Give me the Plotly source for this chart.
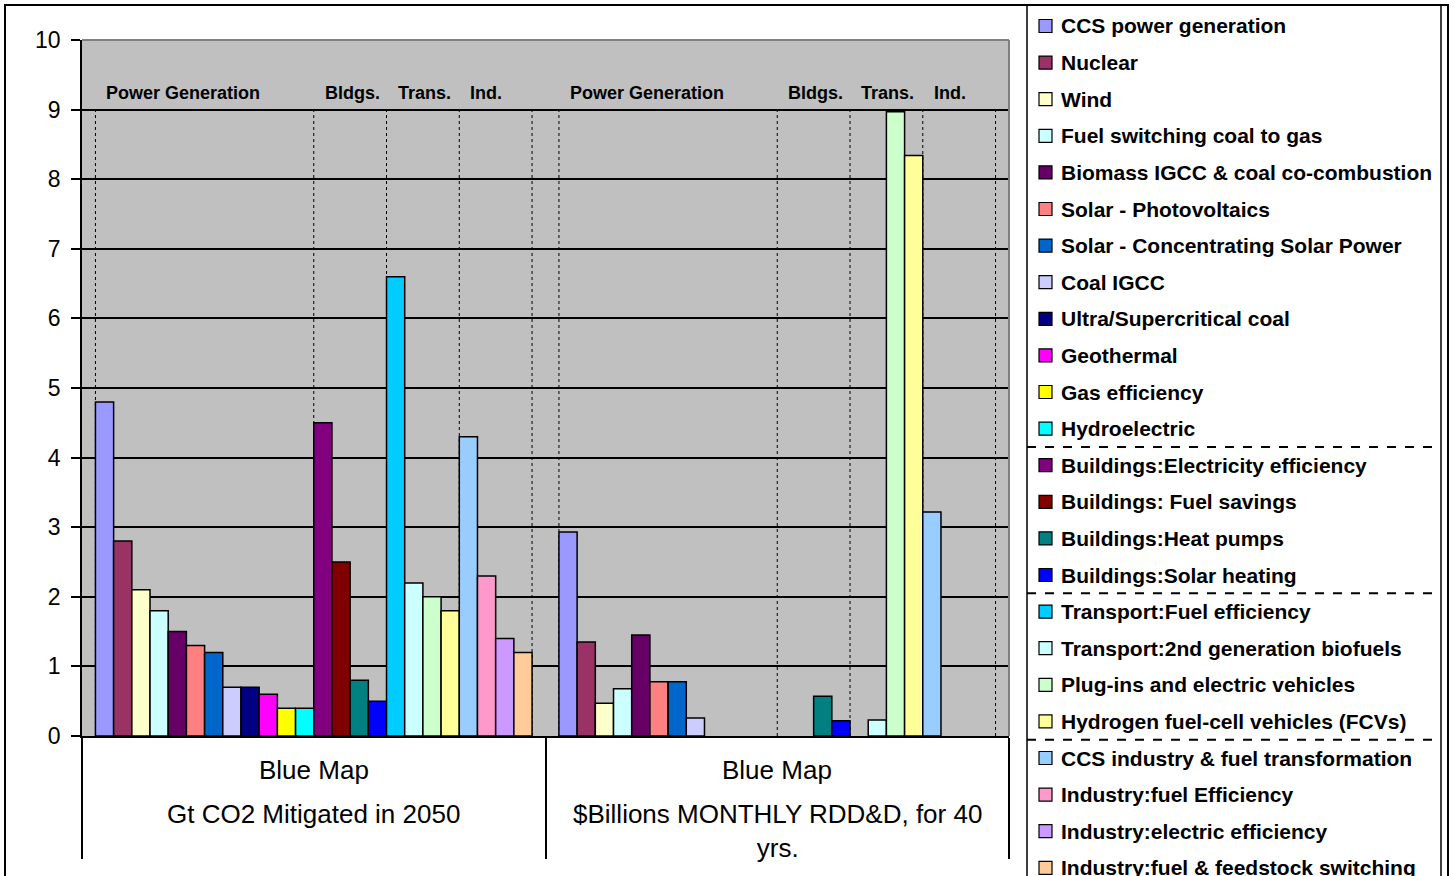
import plotly.graph_objects as go

# ---- data -------------------------------------------------------------
scenario = "Blue Map"
measures = ["Gt CO2 Mitigated in 2050", "$Billions MONTHLY RDD&D, for 40 yrs."]
measure_labels = ["Gt CO2 Mitigated in 2050", "$Billions MONTHLY RDD&D, for 40<br>yrs."]

series = [
    "CCS power generation",
    "Nuclear",
    "Wind",
    "Fuel switching coal to gas",
    "Biomass IGCC & coal co-combustion",
    "Solar - Photovoltaics",
    "Solar - Concentrating Solar Power",
    "Coal IGCC",
    "Ultra/Supercritical coal",
    "Geothermal",
    "Gas efficiency",
    "Hydroelectric",
    "Buildings:Electricity efficiency",
    "Buildings: Fuel savings",
    "Buildings:Heat pumps",
    "Buildings:Solar heating",
    "Transport:Fuel efficiency",
    "Transport:2nd generation biofuels",
    "Plug-ins and electric vehicles",
    "Hydrogen fuel-cell vehicles (FCVs)",
    "CCS industry & fuel transformation",
    "Industry:fuel Efficiency",
    "Industry:electric efficiency",
    "Industry:fuel & feedstock switching",
]

colors = [
    "#9999FF", "#993366", "#FFFFCC", "#CCFFFF", "#660066", "#FF8080",
    "#0066CC", "#CCCCFF", "#000080", "#FF00FF", "#FFFF00", "#00FFFF",
    "#800080", "#800000", "#008080", "#0000FF",
    "#00CCFF", "#CCFFFF", "#CCFFCC", "#FFFF99",
    "#99CCFF", "#FF99CC", "#CC99FF", "#FFCC99",
]

# Gt CO2 mitigated in 2050
co2_mitigated = [4.8, 2.8, 2.1, 1.8, 1.5, 1.3, 1.2, 0.7, 0.7, 0.6, 0.4, 0.4,
                 4.5, 2.5, 0.8, 0.5,
                 6.6, 2.2, 2.0, 1.8,
                 4.3, 2.3, 1.4, 1.2]

# $Billions monthly RDD&D for 40 years (None = no spending listed)
rdd_spending = [2.93, 1.35, 0.47, 0.68, 1.45, 0.78, 0.78, 0.26, None, None, None, None,
                None, None, 0.57, 0.22,
                None, 0.23, 8.97, 8.34,
                3.22, None, None, None]

sectors = ["Power Generation", "Bldgs.", "Trans.", "Ind."]
sector_sizes = [12, 4, 4, 4]
y_ticks = list(range(0, 11))

# ---- geometry ---------------------------------------------------------
W, H = 1455, 876
ML, MR, MT, MB = 82, 446, 40, 140
PW, PH = W - ML - MR, H - MT - MB
BARGAP = 0.058
FONT = "Liberation Sans, Arial, sans-serif"


def px(x):
    return (x - ML) / PW


def py(y):
    return (H - MB - y) / PH


fig = go.Figure()
for name, col, v1, v2 in zip(series, colors, co2_mitigated, rdd_spending):
    fig.add_trace(go.Bar(
        name=name, x=measures, y=[v1, v2],
        marker=dict(color=col, line=dict(color="black", width=1.5)),
        showlegend=False,
    ))

shapes = []
annotations = []

# dotted sector separators and sector captions inside each cluster
n = len(series)
span = 1 - BARGAP
bw = span / n
bounds = [0]
for s in sector_sizes:
    bounds.append(bounds[-1] + s)
for ci in range(len(measures)):
    start = ci - span / 2
    for b in bounds:
        xb = start + b * bw
        shapes.append(dict(type="line", xref="x", yref="y", x0=xb, x1=xb, y0=0, y1=9,
                           line=dict(color="black", width=1, dash="dot"), layer="between"))
    for si, sec in enumerate(sectors):
        annotations.append(dict(
            xref="x", yref="y", x=start + bounds[si] * bw, y=9.24,
            text=f"<b>{sec}</b>", showarrow=False, xanchor="left", yanchor="middle",
            xshift=9, font=dict(family=FONT, size=18, color="black")))

# category captions under the axis
for ci, lab in enumerate(measure_labels):
    annotations.append(dict(xref="x", yref="paper", x=ci, y=py(770), text=scenario,
                            showarrow=False, yanchor="middle",
                            font=dict(family=FONT, size=26, color="black")))
    annotations.append(dict(xref="x", yref="paper", x=ci, y=py(797), text=lab,
                            showarrow=False, yanchor="top",
                            font=dict(family=FONT, size=26, color="black")))

# plot-area border (top / right in dark grey)
shapes.append(dict(type="line", xref="paper", yref="paper", x0=0, x1=1, y0=1, y1=1,
                   line=dict(color="#808080", width=2), layer="above"))
shapes.append(dict(type="line", xref="paper", yref="paper", x0=1, x1=1, y0=0, y1=1,
                   line=dict(color="#808080", width=2), layer="above"))

# outer chart frame and legend box
shapes.append(dict(type="rect", xref="paper", yref="paper",
                   x0=px(5), x1=px(1448), y0=py(905), y1=py(5),
                   line=dict(color="black", width=2), layer="above"))
shapes.append(dict(type="rect", xref="paper", yref="paper",
                   x0=px(1027), x1=px(1441), y0=py(905), y1=py(5),
                   line=dict(color="black", width=1.5), layer="above"))

# legend entries
LEG_Y0, LEG_STEP = 26, 36.6
for i, (name, col) in enumerate(zip(series, colors)):
    yc = LEG_Y0 + i * LEG_STEP
    shapes.append(dict(type="rect", xref="paper", yref="paper",
                       x0=px(1039), x1=px(1052), y0=py(yc + 6.5), y1=py(yc - 6.5),
                       fillcolor=col, line=dict(color="black", width=1.2), layer="above"))
    annotations.append(dict(xref="paper", yref="paper", x=px(1059), y=py(yc),
                            text=f"<b>{name}</b>", showarrow=False,
                            xanchor="left", yanchor="middle",
                            font=dict(family=FONT, size=21, color="black")))

# dashed separators between sector groups of the legend
for b in bounds[1:-1]:
    yd = LEG_Y0 + (b - 0.5) * LEG_STEP
    shapes.append(dict(type="line", xref="paper", yref="paper",
                       x0=px(1027), x1=px(1441), y0=py(yd), y1=py(yd),
                       line=dict(color="black", width=2, dash="dash"), layer="above"))

fig.update_layout(
    width=W, height=H,
    margin=dict(l=ML, r=MR, t=MT, b=MB, autoexpand=False),
    paper_bgcolor="white", plot_bgcolor="#C0C0C0",
    barmode="group", bargap=BARGAP, bargroupgap=0,
    font=dict(family=FONT, color="black"),
    shapes=shapes, annotations=annotations,
    xaxis=dict(type="category", categoryorder="array", categoryarray=measures,
               range=[-0.5, 1.5], showgrid=False, zeroline=False,
               showline=True, linecolor="black", linewidth=1.5,
               ticks="outside", tickson="boundaries", ticklen=121,
               tickwidth=1.5, tickcolor="black", showticklabels=False),
    yaxis=dict(range=[0, 10], tickvals=y_ticks, showgrid=True, gridcolor="black",
               gridwidth=1.5, zeroline=False, showline=True, linecolor="black",
               linewidth=1.5, ticks="outside", ticklen=9, tickwidth=1.5,
               tickcolor="black", ticklabelstandoff=6,
               tickfont=dict(family=FONT, size=23, color="black")),
)

fig.write_html("out.html")
